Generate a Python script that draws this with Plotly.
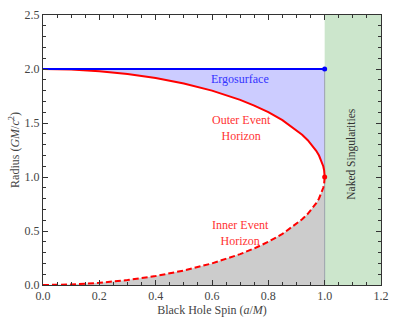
import plotly.graph_objects as go

# spin a/M and horizon radii
spin = [0, 0.1, 0.2, 0.3, 0.4, 0.5, 0.6, 0.7, 0.75, 0.8, 0.85, 0.9, 0.92, 0.94, 0.96,
        0.97, 0.98, 0.99, 0.995, 0.998, 1.0]
outer_horizon = [2.0, 1.995, 1.98, 1.954, 1.917, 1.866, 1.8, 1.714, 1.661, 1.6, 1.527,
                 1.436, 1.392, 1.341, 1.28, 1.243, 1.199, 1.141, 1.1, 1.063, 1.0]
inner_horizon = [0.0, 0.005, 0.02, 0.046, 0.083, 0.134, 0.2, 0.286, 0.339, 0.4, 0.473,
                 0.564, 0.608, 0.659, 0.72, 0.757, 0.801, 0.859, 0.9, 0.937, 1.0]
ergo_spin = [0.0, 1.0]
ergosurface = [2.0, 2.0]

font_family = "Liberation Serif"
axis_color = "#333333"

fig = go.Figure()

# fills first
fig.add_trace(go.Scatter(x=spin, y=inner_horizon, mode='lines', line=dict(width=0),
                         fill='tozeroy', fillcolor='#cccccc', hoverinfo='skip', showlegend=False))
fig.add_trace(go.Scatter(x=spin, y=outer_horizon, mode='lines', line=dict(width=0),
                         hoverinfo='skip', showlegend=False))
fig.add_trace(go.Scatter(x=[spin[0], spin[-1]], y=ergosurface, mode='lines', line=dict(width=0),
                         fill='tonexty', fillcolor='#ccccff', hoverinfo='skip', showlegend=False))

# boundary at a/M = 1
fig.add_trace(go.Scatter(x=[1.0, 1.0], y=[0.0, 2.0], mode='lines',
                         line=dict(color='#9aa0aa', width=1), showlegend=False))

# curves
fig.add_trace(go.Scatter(x=spin, y=outer_horizon, mode='lines', line=dict(color='#ff0000', width=2),
                         showlegend=False))
fig.add_trace(go.Scatter(x=spin, y=inner_horizon, mode='lines',
                         line=dict(color='#ff0000', width=2, dash='6px,3px'),
                         showlegend=False))
fig.add_trace(go.Scatter(x=ergo_spin, y=ergosurface, mode='lines', line=dict(color='#0000ff', width=2),
                         showlegend=False))
fig.add_trace(go.Scatter(x=[1.0], y=[2.0], mode='markers', marker=dict(color='#0000ff', size=5),
                         showlegend=False))
fig.add_trace(go.Scatter(x=[1.0], y=[1.0], mode='markers', marker=dict(color='#ff0000', size=5),
                         showlegend=False))

# naked singularity region
fig.add_shape(type='rect', x0=1.0, x1=1.2, y0=0, y1=2.5, xref='x', yref='y',
              fillcolor='#cce6cc', line=dict(width=0), layer='below')

red_font = dict(color='#ff3333', size=12, family=font_family)
labels = [
    dict(x=0.7, y=1.905, text='Ergosurface', font=dict(color='#3333ff', size=12, family=font_family)),
    dict(x=0.705, y=1.455, text='Outer Event<br>Horizon', font=red_font),
    dict(x=0.7, y=0.48, text='Inner Event<br>Horizon', font=red_font),
    dict(x=1.097, y=1.215, text='Naked Singularities', textangle=-90,
         font=dict(color='#333333', size=11.5, family=font_family)),
]
for lab in labels:
    fig.add_annotation(xref='x', yref='y', showarrow=False, **lab)

fig.update_layout(
    width=399, height=324,
    margin=dict(l=43, r=18, t=15, b=39),
    plot_bgcolor='white', paper_bgcolor='white',
    font=dict(family=font_family, size=12, color='#444444'),
    xaxis=dict(range=[0, 1.2], tickvals=[0, 0.2, 0.4, 0.6, 0.8, 1.0, 1.2],
               ticktext=['0.0', '0.2', '0.4', '0.6', '0.8', '1.0', '1.2'], automargin=False,
               ticks='inside', ticklen=5, tickcolor=axis_color, showgrid=False, zeroline=False,
               showline=True, linecolor=axis_color, linewidth=1, mirror='ticks',
               minor=dict(dtick=0.05, ticks='inside', ticklen=3, tickcolor=axis_color),
               title=dict(text='Black Hole Spin (<i>a</i>/<i>M</i>)', standoff=0, font=dict(size=12))),
    yaxis=dict(range=[0, 2.5], tickvals=[0, 0.5, 1.0, 1.5, 2.0, 2.5],
               ticktext=['0.0', '0.5', '1.0', '1.5', '2.0', '2.5'], automargin=False,
               ticks='inside', ticklen=5, tickcolor=axis_color, showgrid=False, zeroline=False,
               showline=True, linecolor=axis_color, linewidth=1, mirror='ticks',
               minor=dict(dtick=0.1, ticks='inside', ticklen=3, tickcolor=axis_color),
               title=dict(text='Radius (<i>GM</i>/<i>c</i><sup>2</sup>)', standoff=2, font=dict(size=12))),
)

# page body has a default 8px margin; drop it so the figure sits at the window corner
fig.write_html("out.html", config={'displayModeBar': False},
               post_script="document.body.style.margin='0';")
